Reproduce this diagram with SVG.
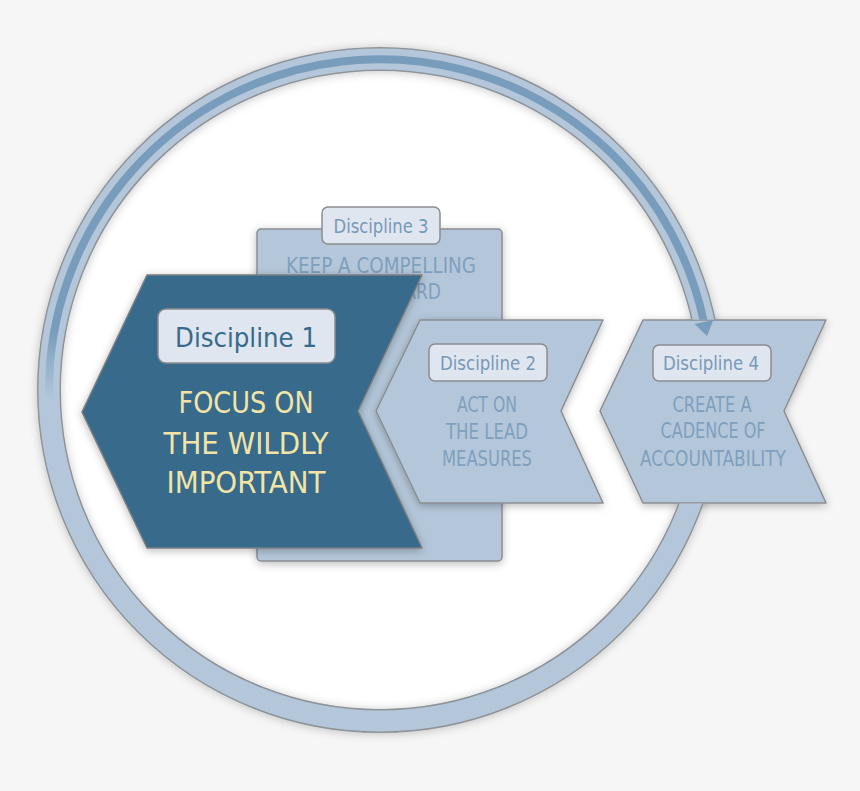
<svg xmlns="http://www.w3.org/2000/svg" width="860" height="791" viewBox="0 0 860 791">
<style>
.t{font-family:"DejaVu Sans Condensed","Liberation Sans Narrow","Liberation Sans",sans-serif;text-anchor:middle}
.lbl{fill:#dfe6ef;stroke:#8a8d91;stroke-width:1.5}
.pale{fill:#b4c7da;stroke:#8a8d91;stroke-width:1.5;stroke-linejoin:round}
.lt{fill:#7799b8;font-size:19px}
.bt{fill:#7f9fbd;font-size:21px}
</style>
<defs>
<filter id="sh" x="-20%" y="-20%" width="140%" height="140%">
<feDropShadow dx="0" dy="2" stdDeviation="4" flood-color="#000" flood-opacity="0.28"/>
</filter>
<filter id="rsh" x="-10%" y="-10%" width="120%" height="120%">
<feDropShadow dx="0" dy="1" stdDeviation="5" flood-color="#000" flood-opacity="0.22"/>
</filter>
<linearGradient id="fade" gradientUnits="userSpaceOnUse" x1="0" y1="330" x2="0" y2="400">
<stop offset="0" stop-color="#789cbb" stop-opacity="1"/>
<stop offset="1" stop-color="#789cbb" stop-opacity="0"/>
</linearGradient>
<mask id="m4" maskUnits="userSpaceOnUse" x="0" y="0" width="860" height="791">
<rect x="0" y="0" width="860" height="791" fill="#fff"/>
<polygon points="643,320 826,320 784,411 826,503 643,503 600,411" fill="#000" stroke="#000" stroke-width="1"/>
</mask>
</defs>
<rect x="0" y="0" width="860" height="791" fill="#f6f6f6"/>
<circle cx="380" cy="390" r="320" fill="#ffffff"/>

<g id="d3">
<rect class="pale" x="257" y="229" width="245" height="332" rx="4" filter="url(#sh)"/>
<rect class="lbl" x="322" y="207" width="118" height="37" rx="6"/>
<text class="t lt" x="381" y="233" textLength="95" lengthAdjust="spacingAndGlyphs">Discipline 3</text>
<text class="t bt" x="381" y="273" textLength="190" lengthAdjust="spacingAndGlyphs">KEEP A COMPELLING</text>
<text class="t bt" x="381" y="299" textLength="120" lengthAdjust="spacingAndGlyphs">SCOREBOARD</text>
</g>

<g id="d1">
<polygon points="147,275 422,275 358,411 422,548 147,548 82,412" fill="#376a8c" stroke="#7a7e82" stroke-width="1.5" stroke-linejoin="round" filter="url(#sh)"/>
<rect class="lbl" x="158" y="309" width="177" height="54" rx="8"/>
<text class="t" x="246" y="347" fill="#376a8c" font-size="27" textLength="142" lengthAdjust="spacingAndGlyphs">Discipline 1</text>
<text class="t" x="246" y="413" fill="#f3e4a6" font-size="30" textLength="135" lengthAdjust="spacingAndGlyphs">FOCUS ON</text>
<text class="t" x="246" y="454" fill="#f3e4a6" font-size="30" textLength="165" lengthAdjust="spacingAndGlyphs">THE WILDLY</text>
<text class="t" x="246" y="493" fill="#f3e4a6" font-size="30" textLength="159" lengthAdjust="spacingAndGlyphs">IMPORTANT</text>
</g>

<g id="d2">
<polygon class="pale" points="420,320 603,320 561,411 603,503 420,503 376,411" filter="url(#sh)"/>
<rect class="lbl" x="429" y="344" width="118" height="37" rx="6"/>
<text class="t lt" x="488" y="370" textLength="96" lengthAdjust="spacingAndGlyphs">Discipline 2</text>
<text class="t bt" x="487" y="412" textLength="60" lengthAdjust="spacingAndGlyphs">ACT ON</text>
<text class="t bt" x="487" y="439" textLength="82" lengthAdjust="spacingAndGlyphs">THE LEAD</text>
<text class="t bt" x="487" y="466" textLength="90" lengthAdjust="spacingAndGlyphs">MEASURES</text>
</g>

<g id="d4">
<polygon class="pale" points="643,320 826,320 784,411 826,503 643,503 600,411" filter="url(#sh)"/>
<rect class="lbl" x="653" y="345" width="118" height="36" rx="6"/>
<text class="t lt" x="711" y="370" textLength="96" lengthAdjust="spacingAndGlyphs">Discipline 4</text>
<text class="t bt" x="712" y="412" textLength="79" lengthAdjust="spacingAndGlyphs">CREATE A</text>
<text class="t bt" x="713" y="438" textLength="105" lengthAdjust="spacingAndGlyphs">CADENCE OF</text>
<text class="t bt" x="713" y="466" textLength="146" lengthAdjust="spacingAndGlyphs">ACCOUNTABILITY</text>
</g>

<g id="connectors">
<g mask="url(#m4)">
<circle cx="380" cy="390" r="331" fill="none" stroke="#8e9398" stroke-width="24" filter="url(#rsh)"/>
<circle cx="380" cy="390" r="331" fill="none" stroke="#b4c7da" stroke-width="21"/>
<path d="M 49.1 398 A 331 331 0 0 1 703.9 322" fill="none" stroke="url(#fade)" stroke-width="8"/>
</g>
<polygon points="694.5,324 713.3,320.1 707,336" fill="#789cbb"/>
</g>
</svg>
